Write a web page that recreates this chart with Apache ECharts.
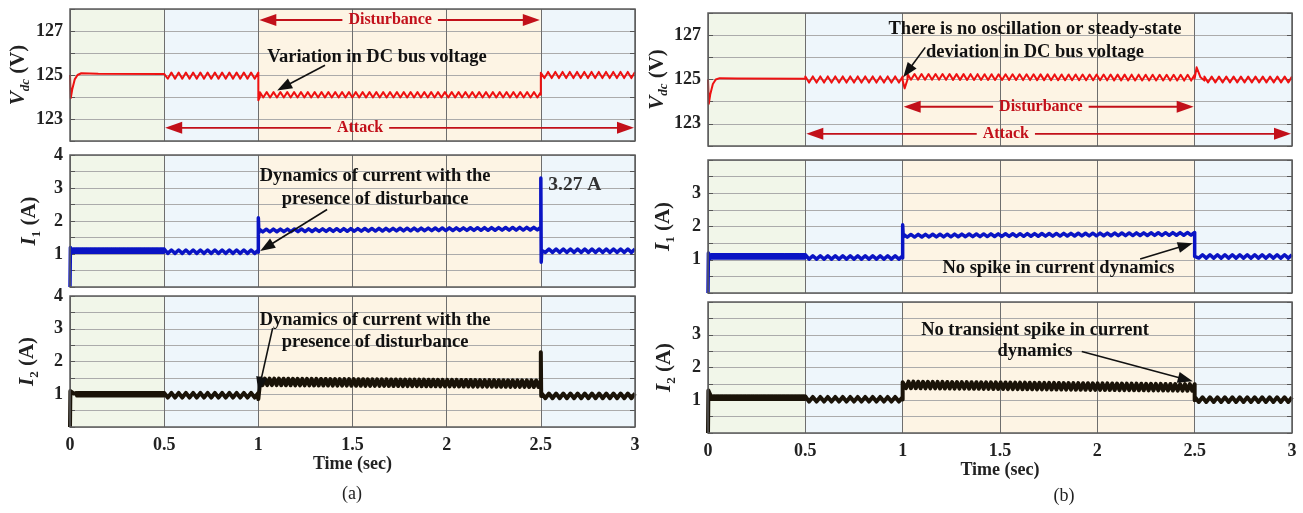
<!DOCTYPE html>
<html><head><meta charset="utf-8">
<script src="https://cdn.jsdelivr.net/npm/echarts@6/dist/echarts.min.js"></script>
<style>html,body{margin:0;padding:0;background:#fff}#c{width:1303px;height:513px}</style>
</head><body><div id="c"></div>
<script>
// ================= DATA =================
const timeTicks = [0, 0.5, 1, 1.5, 2, 2.5, 3];
// phase boundaries: normal | attack | attack + disturbance | attack
const phaseGreen = [[0, 0.5]];
const phaseBlue = [[0.5, 1.0], [2.5, 3.0]];
const phaseOrange = [[1.0, 2.5]];
const vdcTickLabels = [123, 125, 127];
const iTickLabelsA = [1, 2, 3, 4];
const iTickLabelsB = [1, 2, 3];

// pieces: ['pts', [[t, v], ...]] explicit points
//         ['rip', tStart, tEnd, centreStart, centreEnd, amplitude, cycles] ripple
const vdcA = [
  ['pts', [[0,125.0],[0.004,123.95],[0.012,124.35],[0.025,124.8],[0.04,125.0],[0.06,125.08],[0.15,125.06],[0.5,125.05]]],
  ['rip', 0.5, 1.0, 124.97, 124.97, 0.14, 13],
  ['pts', [[1.0,125.1],[1.0,123.85],[1.008,124.0]]],
  ['rip', 1.008, 2.5, 124.1, 124.1, 0.12, 41],
  ['pts', [[2.5,124.1],[2.5,125.1]]],
  ['rip', 2.5, 3.0, 125.0, 125.0, 0.14, 13]
];
const i1A = [
  ['pts', [[0,0],[0.002,1.2],[0.01,1.15]]],
  ['rip', 0.01, 0.5, 1.1, 1.1, 0.05, 70],
  ['rip', 0.5, 1.0, 1.07, 1.07, 0.05, 13],
  ['pts', [[1.0,1.05],[1.0,2.1],[1.003,1.65]]],
  ['rip', 1.005, 2.5, 1.71, 1.77, 0.04, 40],
  ['pts', [[2.5,1.76],[2.5,3.3],[2.502,0.75],[2.505,1.1]]],
  ['rip', 2.505, 3.0, 1.1, 1.1, 0.05, 13]
];
const i2A = [
  ['pts', [[0,0],[0.002,1.1],[0.02,1.02]]],
  ['rip', 0.02, 0.5, 1.0, 1.0, 0.04, 70],
  ['rip', 0.5, 1.0, 0.97, 0.97, 0.07, 13],
  ['pts', [[1.0,0.97],[1.0,0.85],[1.01,1.4]]],
  ['rip', 1.01, 2.5, 1.38, 1.32, 0.1, 60],
  ['pts', [[2.5,1.3],[2.5,2.28],[2.502,0.95]]],
  ['rip', 2.505, 3.0, 0.95, 0.95, 0.07, 13]
];
const vdcB = [
  ['pts', [[0,125.0],[0.004,123.9],[0.012,124.35],[0.025,124.8],[0.04,125.0],[0.06,125.06],[0.15,125.05],[0.5,125.03]]],
  ['rip', 0.5, 1.0, 125.0, 125.0, 0.14, 13],
  ['pts', [[1.0,124.95],[1.01,124.6],[1.025,125.0]]],
  ['rip', 1.025, 2.5, 125.12, 125.08, 0.13, 41],
  ['pts', [[2.5,125.05],[2.51,125.55],[2.53,125.1],[2.55,124.95]]],
  ['rip', 2.55, 3.0, 125.0, 125.0, 0.13, 12]
];
const i1B = [
  ['pts', [[0,0],[0.002,1.2],[0.01,1.15]]],
  ['rip', 0.01, 0.5, 1.1, 1.1, 0.05, 70],
  ['rip', 0.5, 1.0, 1.07, 1.07, 0.05, 13],
  ['pts', [[1.0,1.05],[1.0,2.05],[1.003,1.68]]],
  ['rip', 1.005, 2.5, 1.72, 1.78, 0.04, 40],
  ['pts', [[2.5,1.78],[2.5,1.1]]],
  ['rip', 2.502, 3.0, 1.1, 1.1, 0.05, 13]
];
const i2B = [
  ['pts', [[0,0],[0.002,1.3],[0.015,1.12]]],
  ['rip', 0.015, 0.5, 1.08, 1.08, 0.04, 70],
  ['rip', 0.5, 1.0, 1.03, 1.03, 0.07, 13],
  ['pts', [[1.0,1.02],[1.0,1.55]]],
  ['rip', 1.005, 2.5, 1.47, 1.39, 0.1, 60],
  ['pts', [[2.5,1.39],[2.5,1.0]]],
  ['rip', 2.502, 3.0, 1.02, 1.02, 0.07, 13]
];

// ================= BUILD =================
function build(pieces) {
  const out = [];
  for (const p of pieces) {
    if (p[0] === 'pts') { for (const q of p[1]) out.push(q); }
    else {
      const t0 = p[1], t1 = p[2], c0 = p[3], c1 = p[4], a = p[5], n = p[6];
      const m = 2 * n;
      for (let k = 0; k <= m; k++) {
        const f = k / m;
        out.push([t0 + (t1 - t0) * f, c0 + (c1 - c0) * f + (k % 2 === 0 ? a : -a)]);
      }
    }
  }
  return out;
}

const SERIF = '"Liberation Serif","Times New Roman",serif';
const gridsPx = [
  {left:70, top:9, width:565, height:132},
  {left:70, top:155, width:565, height:132},
  {left:70, top:296, width:565, height:131},
  {left:708, top:13, width:584, height:133},
  {left:708, top:160, width:584, height:133},
  {left:708, top:302, width:584, height:131}
];
const kinds = ['v','i','i','v','i','i'];
const labelSets = [vdcTickLabels, iTickLabelsA, iTickLabelsA, vdcTickLabels, iTickLabelsB, iTickLabelsB];
const nameGaps = [38, 27, 29, 37, 31, 30];
const names = ['{a|V}{b|dc}{c| (V)}', '{a|I}{d|1}{c| (A)}', '{a|I}{d|2}{c| (A)}',
               '{a|V}{b|dc}{c| (V)}', '{a|I}{d|1}{c| (A)}', '{a|I}{d|2}{c| (A)}'];
const traces = [vdcA, i1A, i2A, vdcB, i1B, i2B];
const colors = ['#ee1111', '#0a14c4', '#1a1308', '#ee1111', '#0a14c4', '#1a1308'];
const widths = [2, 3.5, 4, 2, 3.5, 4];

const richName = {
  a: {fontFamily: SERIF, fontSize: 21, fontWeight: 'bold', fontStyle: 'italic', color: '#222', lineHeight: 26, verticalAlign: 'middle'},
  b: {fontFamily: SERIF, fontSize: 13, fontWeight: 'bold', fontStyle: 'italic', color: '#222', lineHeight: 26, verticalAlign: 'bottom'},
  d: {fontFamily: SERIF, fontSize: 13, fontWeight: 'bold', color: '#222', lineHeight: 26, verticalAlign: 'bottom'},
  c: {fontFamily: SERIF, fontSize: 21, fontWeight: 'bold', color: '#222', lineHeight: 26, verticalAlign: 'middle'}
};

const xAxes = [], yAxes = [], yAxesR = [], series = [];
gridsPx.forEach((g, i) => {
  const bottom = (i === 2 || i === 5);
  xAxes.push({
    type: 'value', gridIndex: i, min: 0, max: 3, interval: 0.5, z: 2,
    axisLine: {show: false}, axisTick: {show: false},
    axisLabel: {show: bottom, margin: 9, fontFamily: SERIF, fontSize: 18, fontWeight: 'bold', color: '#222',
      formatter: v => timeTicks.indexOf(v) >= 0 ? String(v) : ''},
    splitLine: {show: true, lineStyle: {color: '#6e6e6e', width: 1}},
    name: bottom ? 'Time (sec)' : '', nameLocation: 'middle', nameGap: 24,
    nameTextStyle: {fontFamily: SERIF, fontSize: 18, fontWeight: 'bold', color: '#222'}
  });
  const isV = kinds[i] === 'v';
  const labs = labelSets[i];
  const yCommon = {
    type: 'value', gridIndex: i, z: 2,
    min: isV ? 122 : 0, max: isV ? 128 : 4, interval: isV ? 1 : 0.5
  };
  yAxes.push(Object.assign({}, yCommon, {
    position: 'left',
    axisLine: {show: false},
    axisTick: {show: true, inside: true, length: 5, lineStyle: {color: '#555'}},
    axisLabel: {margin: 7, fontFamily: SERIF, fontSize: 18, fontWeight: 'bold', color: '#222',
      formatter: v => labs.indexOf(v) >= 0 ? String(v) : ''},
    splitLine: {show: true, lineStyle: {color: '#ababab', width: 1}},
    name: names[i], nameLocation: 'middle', nameRotate: 90, nameGap: nameGaps[i],
    nameTextStyle: {rich: richName}
  }));
  yAxesR.push(Object.assign({}, yCommon, {
    position: 'right',
    axisLine: {show: false},
    axisTick: {show: true, inside: true, length: 5, lineStyle: {color: '#555'}},
    axisLabel: {show: false}, splitLine: {show: false}
  }));
  // background phases
  const areas = [];
  phaseGreen.forEach(r => areas.push([{xAxis: r[0], itemStyle: {color: '#f1f6e9'}}, {xAxis: r[1]}]));
  phaseBlue.forEach(r => areas.push([{xAxis: r[0], itemStyle: {color: '#eef6fb'}}, {xAxis: r[1]}]));
  phaseOrange.forEach(r => areas.push([{xAxis: r[0], itemStyle: {color: '#fdf4e4'}}, {xAxis: r[1]}]));
  series.push({
    type: 'line', xAxisIndex: i, yAxisIndex: i, data: [], z: 1, silent: true,
    markArea: {silent: true, data: areas}
  });
  series.push({
    type: 'line', xAxisIndex: i, yAxisIndex: i, z: 3, data: build(traces[i]),
    showSymbol: false, symbol: 'none', sampling: null, silent: true,
    lineStyle: {color: colors[i], width: widths[i], join: 'round'}
  });
});

const chart = echarts.init(document.getElementById('c'));
chart.setOption({
  animation: false,
  backgroundColor: '#ffffff',
  grid: gridsPx.map(g => Object.assign({show: false, containLabel: false}, g)),
  xAxis: xAxes,
  yAxis: yAxes.concat(yAxesR),
  series: series
});

// ================= ANNOTATIONS =================
const RED = '#c2101a';
const NOTE = 18.5;
const measure = document.createElement('canvas').getContext('2d');
function textW(t, size) { measure.font = 'bold ' + size + 'px ' + SERIF; return measure.measureText(t).width; }
function px(g, t, v) { return chart.convertToPixel({xAxisIndex: g, yAxisIndex: g}, [t, v]); }
const gr = [];
function head(x1, y1, x2, y2, len, hw, color) {
  const dx = x2 - x1, dy = y2 - y1, L = Math.hypot(dx, dy), ux = dx / L, uy = dy / L;
  const bx = x2 - ux * len, by = y2 - uy * len;
  return {type: 'polygon', z: 20, silent: true,
    shape: {points: [[x2, y2], [bx - uy * hw, by + ux * hw], [bx + uy * hw, by - ux * hw]]}, style: {fill: color}};
}
function arrow(g, t1, v1, t2, v2, color) {
  const a = px(g, t1, v1), b = px(g, t2, v2);
  const dx = b[0] - a[0], dy = b[1] - a[1], L = Math.hypot(dx, dy);
  gr.push({type: 'line', z: 20, silent: true,
    shape: {x1: a[0], y1: a[1], x2: b[0] - dx / L * 10, y2: b[1] - dy / L * 10},
    style: {stroke: color, lineWidth: 1.6}});
  gr.push(head(a[0], a[1], b[0], b[1], 15, 5.5, color));
}
function label(g, t, v, text, opts) {
  const p = px(g, t, v);
  gr.push({type: 'text', z: 21, silent: true, x: p[0], y: p[1],
    style: Object.assign({text: text, align: 'center', verticalAlign: 'middle', fontFamily: SERIF,
      fontSize: NOTE, fontWeight: 'bold', fill: '#111'}, opts || {})});
}
function span(g, v, t0, t1, tText, text) {
  const a = px(g, t0, v), b = px(g, t1, v), c = px(g, tText, v);
  const w = textW(text, 16) / 2 + 6;
  gr.push({type: 'line', z: 20, silent: true, shape: {x1: a[0] + 12, y1: a[1], x2: c[0] - w, y2: a[1]}, style: {stroke: RED, lineWidth: 1.8}});
  gr.push({type: 'line', z: 20, silent: true, shape: {x1: c[0] + w, y1: a[1], x2: b[0] - 12, y2: a[1]}, style: {stroke: RED, lineWidth: 1.8}});
  gr.push(head(a[0] + 30, a[1], a[0] + 1, a[1], 17, 6, RED));
  gr.push(head(b[0] - 30, b[1], b[0] - 1, b[1], 17, 6, RED));
  label(g, tText, v, text, {fill: RED, fontSize: 16});
}

// panel (a)
span(0, 127.5, 1.0, 2.5, 1.70, 'Disturbance');
span(0, 122.6, 0.5, 3.0, 1.54, 'Attack');
label(0, 1.63, 125.82, 'Variation in DC bus voltage');
arrow(0, 1.354, 125.44, 1.10, 124.3, '#111');
label(1, 1.62, 3.35, 'Dynamics of current with the');
label(1, 1.62, 2.65, 'presence of disturbance');
arrow(1, 1.365, 2.35, 1.01, 1.09, '#111');
label(1, 2.54, 3.1, '3.27 A', {align: 'left', fill: '#333', fontSize: 19.5});
label(2, 1.62, 3.27, 'Dynamics of current with the');
label(2, 1.62, 2.6, 'presence of disturbance');
arrow(2, 1.076, 3.02, 1.0, 1.07, '#111');
// panel (b)
label(3, 1.68, 127.27, 'There is no oscillation or steady-state');
label(3, 1.68, 126.23, 'deviation in DC bus voltage');
arrow(3, 1.116, 126.45, 1.003, 125.1, '#111');
span(3, 123.77, 1.0, 2.5, 1.71, 'Disturbance');
span(3, 122.55, 0.5, 3.0, 1.53, 'Attack');
label(4, 1.80, 0.75, 'No spike in current dynamics');
arrow(4, 2.22, 1.02, 2.49, 1.5, '#111');
label(5, 1.68, 3.15, 'No transient spike in current');
label(5, 1.68, 2.49, 'dynamics');
arrow(5, 1.92, 2.49, 2.49, 1.58, '#111');

// frames
gridsPx.forEach(g => gr.push({type: 'rect', z: 19, silent: true,
  shape: {x: g.left, y: g.top, width: g.width, height: g.height},
  style: {fill: null, stroke: '#5c5c5c', lineWidth: 1.5}}));
// captions
gr.push({type: 'text', z: 21, silent: true, x: 352, y: 494,
  style: {text: '(a)', align: 'center', verticalAlign: 'middle', fontFamily: SERIF, fontSize: 18, fill: '#222'}});
gr.push({type: 'text', z: 21, silent: true, x: 1064, y: 496,
  style: {text: '(b)', align: 'center', verticalAlign: 'middle', fontFamily: SERIF, fontSize: 18, fill: '#222'}});

chart.setOption({graphic: gr});
</script></body></html>
